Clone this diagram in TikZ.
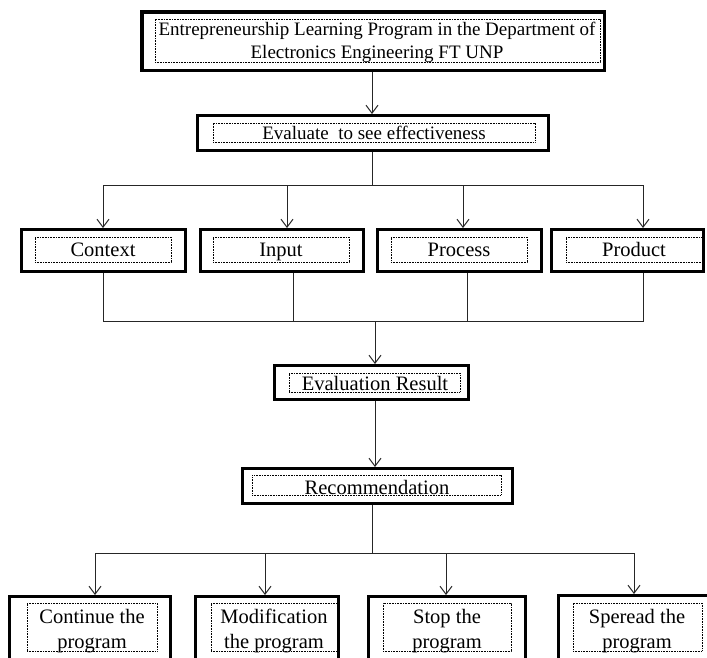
\documentclass[tikz,border=0pt]{standalone}
\usepackage{fontspec}
\setmainfont{Liberation Serif}
\usetikzlibrary{arrows.meta}
\newcommand\obox[6][3]{\node[outerbox, line width=#1pt, minimum width={(#5-#3-#1)*1pt}, minimum height={(#6-#4-#1)*1pt}] (#2) at ({(#3+#5)/2},{(#4+#6)/2}) {};}
\newcommand\dbox[5]{\node[dotbox, minimum width={(#4-#2)*1pt}, minimum height={(#5-#3)*1pt}] (#1) at ({(#2+#4)/2},{(#3+#5)/2}) {};}
\begin{document}
\begin{tikzpicture}[x=1pt,y=-1pt,
  outerbox/.style={draw, fill=white, inner sep=0pt},
  dotbox/.style={draw, line width=0.8pt, dash pattern=on 0.8pt off 0.8pt, inner sep=0pt},
  lbl/.style={inner sep=0pt, anchor=base, font=\fontsize{20.5}{24}\selectfont},
  lbls/.style={lbl, font=\fontsize{19}{22}\selectfont},
  conn/.style={line width=1pt, draw=black!85},
  arr/.style={conn, -{Straight Barb[length=8pt,width=12pt,line width=1pt]}}]
\useasboundingbox (0,0) rectangle (707,657);
\clip (0,0) rectangle (707,657);

% top box
\obox[3.5]{top}{140}{10}{606}{72}
\dbox{topin}{155}{19}{600}{62}
\node[lbls] (t1) at (377,35) {Entrepreneurship Learning Program in the Department of};
\node[lbls] (t2) at (377,58) {Electronics Engineering FT UNP};

% evaluate
\obox{eval}{196}{114}{550}{152}
\dbox{evalin}{213}{123}{535}{142}
\node[lbls] (le) at (374,139) {Evaluate\ \ to see effectiveness};

% level 2
\obox{ctx}{20}{228}{187}{273}
\dbox{ctxin}{35}{237}{171}{262}
\node[lbl] (lctx) at (103,256) {Context};
\obox{inp}{199}{228}{365}{273}
\dbox{inpin}{213}{237}{349}{262}
\node[lbl] (linp) at (281,256) {Input};
\obox{proc}{376}{228}{543}{273}
\dbox{procin}{391}{237}{527}{262}
\node[lbl] (lproc) at (459,256) {Process};
\obox{prod}{550}{228}{705}{273}
\dbox{prodin}{566}{237}{702}{262}
\node[lbl] (lprod) at (634,256) {Product};

% evaluation result
\obox{res}{273}{364}{470}{401}
\dbox{resin}{289}{373}{460}{392}
\node[lbl] (lres) at (375,390) {Evaluation Result};

% recommendation
\obox{rec}{241}{467}{514}{505}
\dbox{recin}{252}{475}{501}{495}
\node[lbl] (lrec) at (377,494) {Recommendation};

% bottom boxes
\obox{cont}{8}{595}{172}{690}
\dbox{contin}{27}{603}{157}{651}
\node[lbl] (lc1) at (92,623) {Continue the};
\node[lbl] (lc2) at (92,648) {program};
\obox{modi}{194}{595}{340}{690}
\dbox{modiin}{211}{603}{337}{651}
\node[lbl] (lm1) at (274,623) {Modification};
\node[lbl] (lm2) at (274,648) {the program};
\obox{stop}{367}{595}{527}{690}
\dbox{stopin}{383}{603}{511}{651}
\node[lbl] (ls1) at (447,623) {Stop the};
\node[lbl] (ls2) at (447,648) {program};
\obox{spr}{557}{594}{712}{690}
\dbox{sprin}{573}{603}{702}{651}
\node[lbl] (lsp1) at (637,623) {Speread the};
\node[lbl] (lsp2) at (637,648) {program};

% coordinates
\coordinate (a0) at (372,0);
\coordinate (j0) at (372,185);
\coordinate (s1) at (103,185);
\coordinate (s2) at (287,185);
\coordinate (s3) at (463,185);
\coordinate (s4) at (643,185);
\coordinate (m1) at (103,321);
\coordinate (m2) at (293,321);
\coordinate (m3) at (467,321);
\coordinate (m4) at (643,321);
\coordinate (mc) at (375,321);
\coordinate (b0) at (372,553);
\coordinate (b1) at (95,553);
\coordinate (b2) at (265,553);
\coordinate (b3) at (446,553);
\coordinate (b4) at (634,553);

% connectors
\draw[arr] (top.south -| a0) -- (eval.north -| a0);
\draw[conn] (eval.south -| j0) -- (j0);
\draw[conn] (s1) -- (s4);
\draw[arr] (s1) -- (s1 |- ctx.north);
\draw[arr] (s2) -- (s2 |- inp.north);
\draw[arr] (s3) -- (s3 |- proc.north);
\draw[arr] (s4) -- (s4 |- prod.north);

\draw[conn] (m1 |- ctx.south) -- (m1) -- (m4) -- (m4 |- prod.south);
\draw[conn] (m2 |- inp.south) -- (m2);
\draw[conn] (m3 |- proc.south) -- (m3);
\draw[arr] (mc) -- (mc |- res.north);
\draw[arr] (res.south -| mc) -- (rec.north -| mc);

\draw[conn] (rec.south -| b0) -- (b0);
\draw[conn] (b1) -- (b4);
\draw[arr] (b1) -- (b1 |- cont.north);
\draw[arr] (b2) -- (b2 |- modi.north);
\draw[arr] (b3) -- (b3 |- stop.north);
\draw[arr] (b4) -- (b4 |- spr.north);
\end{tikzpicture}
\end{document}
